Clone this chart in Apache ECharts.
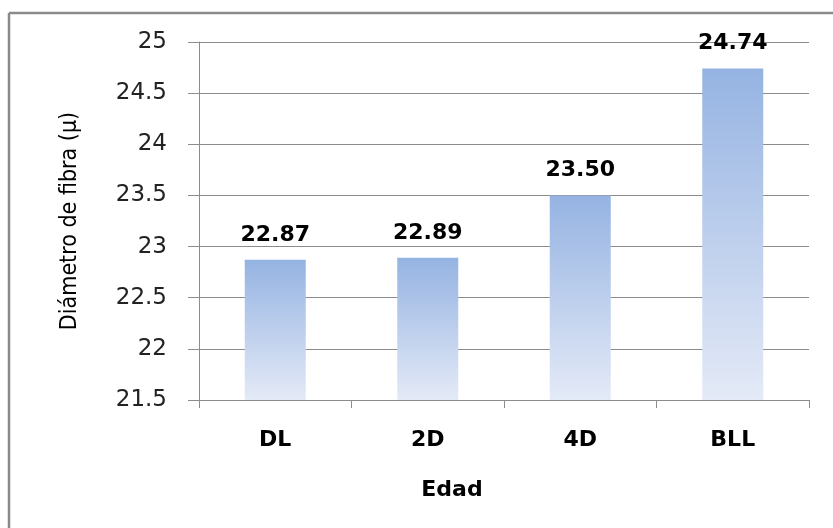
<!DOCTYPE html>
<html>
<head>
<meta charset="utf-8">
<script src="https://cdn.jsdelivr.net/npm/echarts@6/dist/echarts.min.js"></script>
<style>
  html, body { margin: 0; padding: 0; background: #fff; }
  #chart { width: 833px; height: 528px; }
</style>
</head>
<body>
<div id="chart"></div>
<script>
// Fibre diameter by age group
const categories = ['DL', '2D', '4D', 'BLL'];
const diameters = [22.87, 22.89, 23.50, 24.74];
const yMin = 21.5;
const yMax = 25;
const yStep = 0.5;

const chart = echarts.init(document.getElementById('chart'));

const gridColor = '#8c8c8c';

chart.setOption({
  backgroundColor: '#ffffff',
  animation: false,
  grid: { left: 199, top: 42, right: 24, bottom: 128, containLabel: false },
  graphic: [
    // frame edges
    { type: 'line', shape: { x1: 9, y1: 13, x2: 833, y2: 13 }, style: { stroke: '#8a8a8a', lineWidth: 2.5 } },
    { type: 'line', shape: { x1: 9, y1: 13, x2: 9, y2: 528 }, style: { stroke: '#8a8a8a', lineWidth: 2.5 } },
    {
      type: 'text', x: 452, y: 490,
      style: {
        text: 'Edad', font: 'bold 22px "DejaVu Sans"', fill: '#000',
        align: 'center', verticalAlign: 'middle'
      }
    }
  ],
  xAxis: {
    type: 'category',
    data: categories,
    axisLine: { show: true, lineStyle: { color: gridColor, width: 1 } },
    axisTick: { show: true, length: 8, lineStyle: { color: gridColor } },
    axisLabel: { margin: 29, color: '#000', fontFamily: 'DejaVu Sans', fontWeight: 'bold', fontSize: 22 }
  },
  yAxis: {
    type: 'value',
    min: yMin,
    max: yMax,
    interval: yStep,
    name: 'Diámetro de fibra (µ)',
    nameLocation: 'middle',
    nameRotate: 90,
    nameGap: 117,
    nameTextStyle: { fontFamily: '"DejaVu Sans Condensed", "DejaVu Sans"', fontSize: 23, color: '#000' },
    axisLine: { show: true, lineStyle: { color: gridColor, width: 1 } },
    axisTick: { show: true, length: 11, inside: false, lineStyle: { color: gridColor } },
    axisLabel: {
      margin: 32, color: '#222', fontFamily: 'DejaVu Sans', fontSize: 23,
      formatter: v => String(Math.round(v * 10) / 10)
    },
    splitLine: { show: true, lineStyle: { color: gridColor, width: 1 } }
  },
  series: [{
    type: 'bar',
    data: diameters,
    barWidth: 61,
    itemStyle: {
      color: new echarts.graphic.LinearGradient(0, 0, 0, 1, [
        { offset: 0, color: '#95b3e2' },
        { offset: 1, color: '#e4eaf7' }
      ])
    },
    label: {
      show: true,
      position: 'top',
      distance: 14,
      color: '#000',
      fontFamily: 'DejaVu Sans',
      fontWeight: 'bold',
      fontSize: 22,
      formatter: p => p.value.toFixed(2)
    }
  }]
});
</script>
</body>
</html>
